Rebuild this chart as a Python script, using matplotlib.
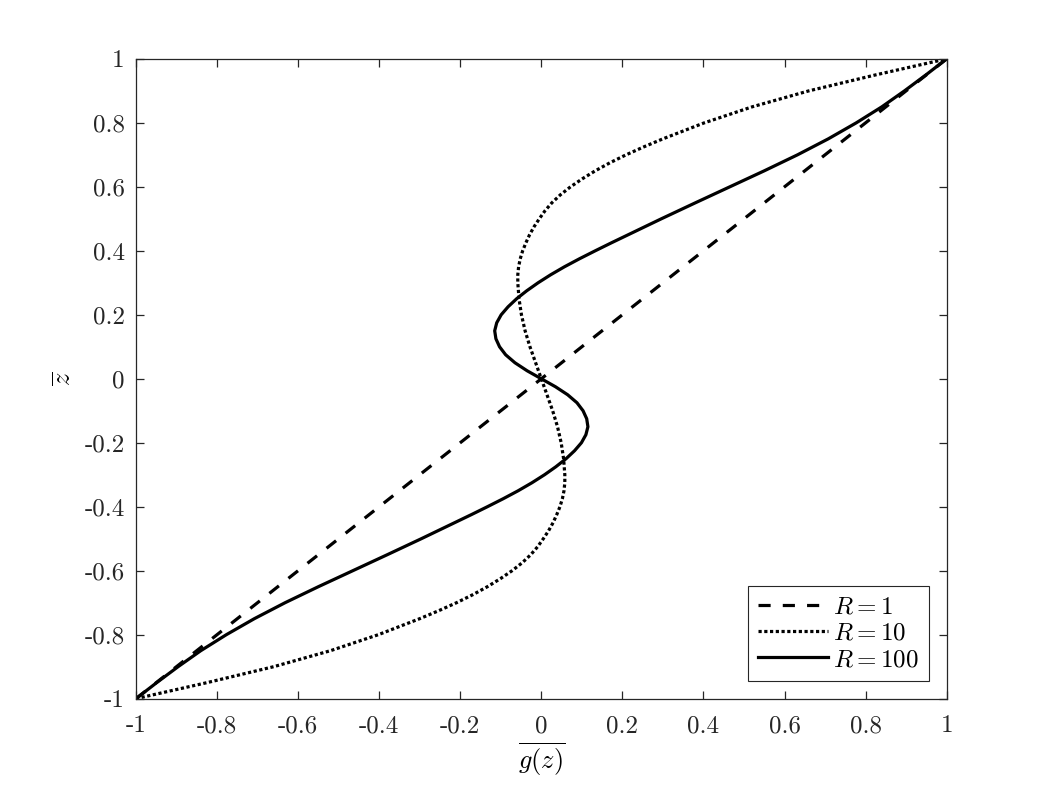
import matplotlib
matplotlib.use('Agg')
import matplotlib.pyplot as plt

plt.rcParams['mathtext.fontset'] = 'cm'
plt.rcParams['font.family'] = ['cmr10', 'DejaVu Serif']
plt.rcParams['axes.unicode_minus'] = False

# R = 1 : straight line
g_r1 = [-1.0, 1.0]
z_r1 = [-1.0, 1.0]

# R = 10 (dotted)
z_r10 = [-1.0, -0.95, -0.9, -0.85, -0.8, -0.75, -0.725, -0.7, -0.675, -0.65,
         -0.625, -0.6, -0.575, -0.55, -0.525, -0.5, -0.475, -0.45, -0.425, -0.4,
         -0.375, -0.35, -0.325, -0.3, -0.25, -0.2, -0.15, -0.1, -0.05, 0.0,
         0.05, 0.1, 0.15, 0.2, 0.25, 0.3, 0.325, 0.35, 0.375, 0.4,
         0.425, 0.45, 0.475, 0.5, 0.525, 0.55, 0.575, 0.6, 0.625, 0.65,
         0.675, 0.7, 0.725, 0.75, 0.8, 0.85, 0.9, 0.95, 1.0]
g_r10 = [-1.0, -0.825, -0.66, -0.52, -0.402, -0.3, -0.253, -0.209, -0.169, -0.133,
         -0.101, -0.072, -0.047, -0.026, -0.009, 0.005, 0.018, 0.029, 0.038, 0.046,
         0.052, 0.056, 0.058, 0.058, 0.055, 0.049, 0.04, 0.028, 0.014, 0.0,
         -0.014, -0.028, -0.04, -0.049, -0.055, -0.058, -0.058, -0.056, -0.052, -0.046,
         -0.038, -0.029, -0.018, -0.005, 0.009, 0.026, 0.047, 0.072, 0.101, 0.133,
         0.169, 0.209, 0.253, 0.3, 0.402, 0.52, 0.66, 0.825, 1.0]

# R = 100 (solid)
z_r100 = [-1.0, -0.95, -0.9, -0.85, -0.8, -0.75, -0.7, -0.65, -0.6, -0.55,
          -0.5, -0.475, -0.45, -0.425, -0.4, -0.375, -0.35, -0.325, -0.3, -0.275,
          -0.25, -0.225, -0.2, -0.175, -0.15, -0.125, -0.1, -0.075, -0.05, -0.025,
          0.0, 0.025, 0.05, 0.075, 0.1, 0.125, 0.15, 0.175, 0.2, 0.225,
          0.25, 0.275, 0.3, 0.325, 0.35, 0.375, 0.4, 0.425, 0.45, 0.475,
          0.5, 0.55, 0.6, 0.65, 0.7, 0.75, 0.8, 0.85, 0.9, 0.95, 1.0]
g_r100 = [-1.0, -0.949, -0.896, -0.84, -0.777, -0.708, -0.632, -0.55, -0.465, -0.38,
          -0.296, -0.255, -0.214, -0.173, -0.133, -0.094, -0.057, -0.023, 0.008, 0.036,
          0.061, 0.082, 0.099, 0.11, 0.115, 0.112, 0.103, 0.088, 0.065, 0.035,
          0.0, -0.035, -0.065, -0.088, -0.103, -0.112, -0.115, -0.11, -0.099, -0.082,
          -0.061, -0.036, -0.008, 0.023, 0.057, 0.094, 0.133, 0.173, 0.214, 0.255,
          0.296, 0.38, 0.465, 0.55, 0.632, 0.708, 0.777, 0.84, 0.896, 0.949, 1.0]

ticks = [-1, -0.8, -0.6, -0.4, -0.2, 0, 0.2, 0.4, 0.6, 0.8, 1]
tick_labels = ['-1', '-0.8', '-0.6', '-0.4', '-0.2', '0', '0.2', '0.4', '0.6', '0.8', '1']

fig = plt.figure(figsize=(10.46, 7.85), dpi=100)
ax = fig.add_axes([0.13, 0.11, 0.775, 0.815])

ax.plot(g_r1, z_r1, color='k', linewidth=2.3, dashes=(3.8, 3.8), label='$R=1$')
ax.plot(g_r10, z_r10, color='k', linewidth=2.3, dashes=(1, 0.8), dash_capstyle='butt',
        label='$R=10$')
ax.plot(g_r100, z_r100, color='k', linewidth=2.3, label='$R=100$')

ax.set_xlim(-1, 1)
ax.set_ylim(-1, 1)
ax.set_xticks(ticks)
ax.set_xticklabels(tick_labels)
ax.set_yticks(ticks)
ax.set_yticklabels(tick_labels)

for s in ax.spines.values():
    s.set_color('#262626')
    s.set_linewidth(0.9)
ax.tick_params(direction='in', length=6, width=0.9, color='#262626',
               top=True, right=True, labelsize=18, labelcolor='#262626')
ax.tick_params(axis='x', pad=12)
ax.tick_params(axis='y', pad=8)

ax.set_xlabel(r'$\overline{g(z)}$', fontsize=19, labelpad=2)
ax.set_ylabel(r'$\overline{z}$', fontsize=19, labelpad=6)

leg = ax.legend(loc='lower right', fontsize=18, fancybox=False, framealpha=1,
                edgecolor='#262626', handlelength=2.8, handletextpad=0.2,
                labelspacing=0.15, borderpad=0.4, borderaxespad=0.7)
leg.get_frame().set_linewidth(0.8)

fig.savefig('out.png', dpi=100)
